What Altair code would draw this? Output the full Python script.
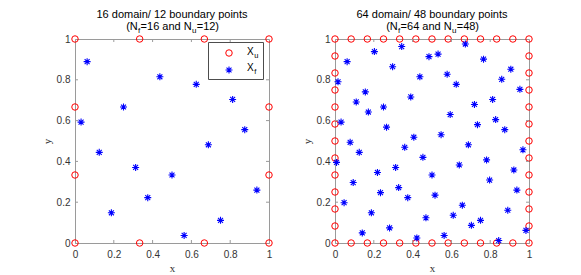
import altair as alt
import pandas as pd

# ---- data ----
XF16 = [0.5, 0.25, 0.75, 0.125, 0.625, 0.375, 0.875, 0.0625, 0.5625, 0.3125,
        0.8125, 0.1875, 0.6875, 0.4375, 0.9375, 0.0313]
YF16 = [0.3333, 0.6667, 0.1111, 0.4444, 0.7778, 0.2222, 0.5556, 0.8889, 0.0370,
        0.3704, 0.7037, 0.1481, 0.4815, 0.8148, 0.2593, 0.5926]

XF64 = [0.5, 0.25, 0.75, 0.125, 0.625, 0.375, 0.875, 0.0625, 0.5625, 0.3125,
        0.8125, 0.1875, 0.6875, 0.4375, 0.9375, 0.0313, 0.5313, 0.2813, 0.7813,
        0.1563, 0.6563, 0.4063, 0.9063, 0.0938, 0.5938, 0.3438, 0.8438, 0.2188,
        0.7188, 0.4688, 0.9688, 0.0156, 0.5156, 0.2656, 0.7656, 0.1406, 0.6406,
        0.3906, 0.8906, 0.0781, 0.5781, 0.3281, 0.8281, 0.2031, 0.7031, 0.4531,
        0.9531, 0.0469, 0.5469, 0.2969, 0.7969, 0.1719, 0.6719, 0.4219, 0.9219,
        0.1094, 0.6094, 0.3594, 0.8594, 0.2344, 0.7344, 0.4844, 0.9844, 0.0078]
YF64 = [0.3333, 0.6667, 0.1111, 0.4444, 0.7778, 0.2222, 0.5556, 0.8889, 0.0370,
        0.3704, 0.7037, 0.1481, 0.4815, 0.8148, 0.2593, 0.5926, 0.9259, 0.0741,
        0.4074, 0.7407, 0.1852, 0.5185, 0.8519, 0.2963, 0.6296, 0.9630, 0.0123,
        0.3457, 0.6790, 0.1235, 0.4568, 0.7901, 0.2346, 0.5679, 0.9012, 0.0494,
        0.3827, 0.7160, 0.1605, 0.4938, 0.8272, 0.2716, 0.6049, 0.9383, 0.0864,
        0.4198, 0.7531, 0.1975, 0.5309, 0.8642, 0.3086, 0.6420, 0.9753, 0.0247,
        0.3580, 0.6914, 0.1358, 0.4691, 0.8025, 0.2469, 0.5802, 0.9136, 0.0617,
        0.3951]

GRID12 = [0, 0.3333, 0.6667, 1]
GRID48 = [0, 0.0833, 0.1667, 0.25, 0.3333, 0.4167, 0.5, 0.5833, 0.6667, 0.75,
          0.8333, 0.9167, 1]

TICKS = [0, 0.2, 0.4, 0.6, 0.8, 1]
INNER_TICKS = [0.2, 0.4, 0.6, 0.8]

TITLES1 = ["16 domain/ 12 boundary points", "64 domain/ 48 boundary points"]
NF = ["16", "64"]
NU = ["12", "48"]

# ---- styling ----
W, H = 194, 204
AX = "#9a9a9a"
LC = "#333333"
RED = "#ff0000"
BLUE = "#0000ff"
SANS = "Liberation Sans"
SERIF = "Liberation Serif"
MAIN = 11
SUB = 8
ASTER = "M-1,0L1,0M0,-1L0,1M-0.7071,-0.7071L0.7071,0.7071M-0.7071,0.7071L0.7071,-0.7071"

CW = {'(': 333, ')': 333, 'N': 722, 'f': 278, 'u': 556, '=': 584, ' ': 278,
      'a': 556, 'n': 556, 'd': 556, 'X': 667}


def tw(s, size):
    return sum(CW.get(c, 556) for c in s) * size / 1000.0


def boundary(grid):
    xs, ys = [], []
    for g in grid[:-1]:
        xs.append(g); ys.append(0)
    for g in grid[:-1]:
        xs.append(1); ys.append(g)
    for g in grid[1:]:
        xs.append(g); ys.append(1)
    for g in grid[1:]:
        xs.append(0); ys.append(g)
    return pd.DataFrame({"x": xs, "y": ys})


ONE = pd.DataFrame({"a": [0]})


def txt(s, x, y, size, align="left", font=SANS):
    return alt.Chart(ONE).mark_text(
        text=s, align=align, baseline="alphabetic", font=font, fontSize=size,
        color="#000000"
    ).encode(x=alt.value(x), y=alt.value(y))


def panel(xf, yf, grid, line1, nf, nu, legend):
    xs = alt.Scale(domain=[0, 1], nice=False, zero=False)
    ys = alt.Scale(domain=[0, 1], nice=False, zero=False)
    common = dict(values=TICKS, format="~g", ticks=False, grid=False,
                  domainColor=AX, domainWidth=1, labelColor=LC, labelFont=SANS,
                  labelFontSize=10, labelFlush=False, labelOverlap=False,
                  titleFont=SERIF, titleFontSize=11, titleFontWeight="normal",
                  titleColor=LC)
    xaxis = alt.Axis(labelPadding=6, titlePadding=3, **common)
    yaxis = alt.Axis(labelPadding=5, titlePadding=3.5, **common)

    dfu = boundary(grid)
    dff = pd.DataFrame({"x": xf, "y": yf})
    dtx = pd.DataFrame({"x": INNER_TICKS})
    dty = pd.DataFrame({"y": INNER_TICKS})

    X = alt.X("x:Q", scale=xs, axis=xaxis, title="x")
    Y = alt.Y("y:Q", scale=ys, axis=yaxis, title="y")

    lu = alt.Chart(dfu).mark_point(
        shape="circle", filled=False, color=RED, size=42, strokeWidth=1, opacity=1
    ).encode(x=X, y=Y)
    lf = alt.Chart(dff).mark_point(
        shape=ASTER, filled=False, color=BLUE, size=49, strokeWidth=1.1, opacity=1
    ).encode(x=X, y=Y)

    tb = alt.Chart(dtx).mark_rule(color=AX, strokeWidth=1).encode(
        x=X, y=alt.value(H), y2=alt.value(H - 3))
    tt = alt.Chart(dtx).mark_rule(color=AX, strokeWidth=1).encode(
        x=X, y=alt.value(0), y2=alt.value(3))
    tl = alt.Chart(dty).mark_rule(color=AX, strokeWidth=1).encode(
        y=Y, x=alt.value(0), x2=alt.value(3))
    tr = alt.Chart(dty).mark_rule(color=AX, strokeWidth=1).encode(
        y=Y, x=alt.value(W), x2=alt.value(W - 3))

    layers = [lu, tb, tt, tl, tr]

    # titles
    layers.append(txt(line1, W / 2, -21, MAIN, align="center"))
    pieces = [("(N", MAIN, 0), ("f", SUB, 3), ("=%s and N" % nf, MAIN, 0),
              ("u", SUB, 3), ("=%s)" % nu, MAIN, 0)]
    total = sum(tw(p, s) for p, s, _ in pieces)
    x0 = W / 2 - total / 2
    for p, s, dy in pieces:
        layers.append(txt(p, x0, -9.5 + dy, s))
        x0 += tw(p, s) + 0.3

    if legend:
        box = alt.Chart(ONE).mark_rect(
            fill="#ffffff", stroke="#4d4d4d", strokeWidth=1
        ).encode(x=alt.value(133.5), x2=alt.value(188.5),
                 y=alt.value(3.5), y2=alt.value(40.5))
        layers.append(box)
        layers.append(alt.Chart(ONE).mark_point(
            shape="circle", filled=False, color=RED, size=42, strokeWidth=1, opacity=1
        ).encode(x=alt.value(154), y=alt.value(14)))
        layers.append(alt.Chart(ONE).mark_point(
            shape=ASTER, filled=False, color=BLUE, size=49, strokeWidth=1.1, opacity=1
        ).encode(x=alt.value(154), y=alt.value(31)))
        layers.append(txt("X", 172, 15.5, 10))
        layers.append(txt("u", 172.5 + tw("X", 10), 18.5, 7.5))
        layers.append(txt("X", 172, 31.5, 10))
        layers.append(txt("f", 172.5 + tw("X", 10), 34.5, 7.5))

    layers.append(lf)
    return alt.layer(*layers).properties(width=W, height=H)


left = panel(XF16, YF16, GRID12, TITLES1[0], NF[0], NU[0], True)
right = panel(XF64, YF64, GRID48, TITLES1[1], NF[1], NU[1], False)

chart = alt.hconcat(left, right, spacing=26).properties(
    padding={"left": 33, "top": 0, "right": 0, "bottom": 0}
).configure(font=SANS).configure_view(stroke=AX, strokeWidth=1)

chart.save("out.html", embed_options={"renderer": "svg", "actions": False})
